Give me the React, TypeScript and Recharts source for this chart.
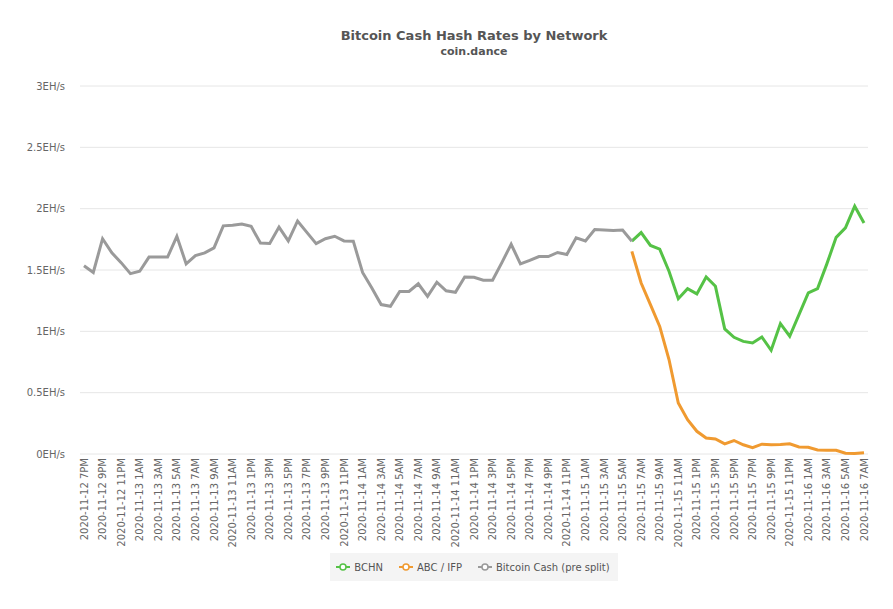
import React from 'react';
import { LineChart, Line, XAxis, YAxis, CartesianGrid, Legend } from 'recharts';

const FONT = '"DejaVu Sans", sans-serif';

// hourly timestamps, 2020-11-12 7PM .. 2020-11-16 7AM
const startDay = 12;
const startHour = 19;
const hourCount = 85;

// Bitcoin Cash (pre split), hours 0..59
const preSplit = [
  1.535, 1.48, 1.755, 1.64, 1.56, 1.47, 1.49, 1.605, 1.605, 1.605,
  1.775, 1.55, 1.617, 1.64, 1.68, 1.86, 1.865, 1.875, 1.856, 1.72,
  1.717, 1.85, 1.737, 1.9, 1.807, 1.715, 1.755, 1.775, 1.737, 1.735,
  1.48, 1.354, 1.218, 1.204, 1.325, 1.325, 1.388, 1.285, 1.4, 1.33,
  1.318, 1.443, 1.44, 1.417, 1.417, 1.56, 1.71, 1.55, 1.578, 1.61,
  1.61, 1.643, 1.626, 1.762, 1.737, 1.83, 1.826, 1.822, 1.826, 1.735,
];

// BCHN, hours 59..84
const bchn = [
  1.735, 1.805, 1.7, 1.67, 1.49, 1.266, 1.348, 1.305, 1.443, 1.367,
  1.02, 0.951, 0.918, 0.905, 0.954, 0.845, 1.063, 0.96, 1.136, 1.313,
  1.348, 1.55, 1.766, 1.843, 2.02, 1.883,
];

// ABC / IFP, hours 59..84
const abc = [
  1.652, 1.394, 1.218, 1.04, 0.77, 0.416, 0.28, 0.185, 0.13, 0.122,
  0.083, 0.11, 0.075, 0.052, 0.08, 0.075, 0.078, 0.083, 0.057, 0.055,
  0.033, 0.03, 0.03, 0.006, 0.004, 0.01,
];
const splitStart = 59;

const yTicks = [0, 0.5, 1, 1.5, 2, 2.5, 3];

const fmtHour = (h: number) => {
  const suffix = h < 12 ? 'AM' : 'PM';
  const h12 = h % 12 === 0 ? 12 : h % 12;
  return `${h12}${suffix}`;
};

const labels: string[] = [];
for (let i = 0; i < hourCount; i++) {
  const total = startHour + i;
  const day = startDay + Math.floor(total / 24);
  labels.push(`2020-11-${day} ${fmtHour(total % 24)}`);
}

const data = labels.map((label, i) => ({
  label,
  pre: i < preSplit.length ? preSplit[i] : null,
  bchn: i >= splitStart ? bchn[i - splitStart] : null,
  abc: i >= splitStart ? abc[i - splitStart] : null,
}));

const series = [
  { key: 'bchn', name: 'BCHN', color: '#55c246' },
  { key: 'abc', name: 'ABC / IFP', color: '#f09a30' },
  { key: 'pre', name: 'Bitcoin Cash (pre split)', color: '#9a9a9a' },
];

const XTick = (props: any) => {
  const { x, y, payload } = props;
  return (
    <text
      transform={`translate(${x},${y}) rotate(-90)`}
      textAnchor="end"
      dy="0.35em"
      fontSize={10}
      fill="#666"
      fontFamily={FONT}
    >
      {payload.value}
    </text>
  );
};

const renderLegend = () => (
  <div style={{ display: 'flex', justifyContent: 'center' }}>
    <div
      style={{
        display: 'flex',
        alignItems: 'center',
        background: '#f4f4f4',
        height: 28,
        padding: '0 8px 0 6px',
        fontFamily: FONT,
        fontSize: 10,
        color: '#555',
      }}
    >
      {series.map((s, i) => (
        <div key={s.key} style={{ display: 'flex', alignItems: 'center', marginRight: i < series.length - 1 ? 16 : 0 }}>
          <svg width={14} height={8} style={{ marginRight: 4 }}>
            <line x1={0} y1={4} x2={14} y2={4} stroke={s.color} strokeWidth={2} />
            <circle cx={7} cy={4} r={3} fill="#fff" stroke={s.color} strokeWidth={1.5} />
          </svg>
          <span>{s.name}</span>
        </div>
      ))}
    </div>
  </div>
);

export default function App() {
  return (
    <div style={{ position: 'absolute', left: 0, top: 0, width: 893, height: 609, background: '#fff' }}>
      <div
        style={{
          position: 'absolute', left: 80, width: 788, top: 27, textAlign: 'center',
          fontFamily: FONT, fontWeight: 'bold', fontSize: 13, color: '#555', lineHeight: '18px',
        }}
      >
        Bitcoin Cash Hash Rates by Network
      </div>
      <div
        style={{
          position: 'absolute', left: 80, width: 788, top: 45, textAlign: 'center',
          fontFamily: FONT, fontWeight: 'bold', fontSize: 11, color: '#555', lineHeight: '14px',
        }}
      >
        coin.dance
      </div>
      <LineChart width={893} height={609} data={data} margin={{ top: 86, right: 25, left: 0, bottom: 28 }}>
        <CartesianGrid vertical={false} stroke="#e6e6e6" />
        <XAxis
          dataKey="label"
          interval={1}
          height={99}
          axisLine={false}
          tickLine={false}
          tickSize={0}
          tickMargin={4}
          padding={{ left: 4, right: 4 }}
          tick={<XTick />}
        />
        <YAxis
          width={80}
          domain={[0, 3]}
          ticks={yTicks}
          axisLine={false}
          tickLine={false}
          tickSize={0}
          tickMargin={15}
          tick={{ fontSize: 10, fill: '#666', fontFamily: FONT }}
          tickFormatter={(v) => `${v}EH/s`}
        />
        <Legend
          verticalAlign="bottom"
          height={28}
          content={renderLegend}
          wrapperStyle={{ left: 80, width: 788 }}
        />
        {series.map((s) => (
          <Line
            key={s.key}
            type="linear"
            dataKey={s.key}
            name={s.name}
            stroke={s.color}
            strokeWidth={3}
            dot={false}
            activeDot={false}
            isAnimationActive={false}
          />
        ))}
      </LineChart>
    </div>
  );
}
